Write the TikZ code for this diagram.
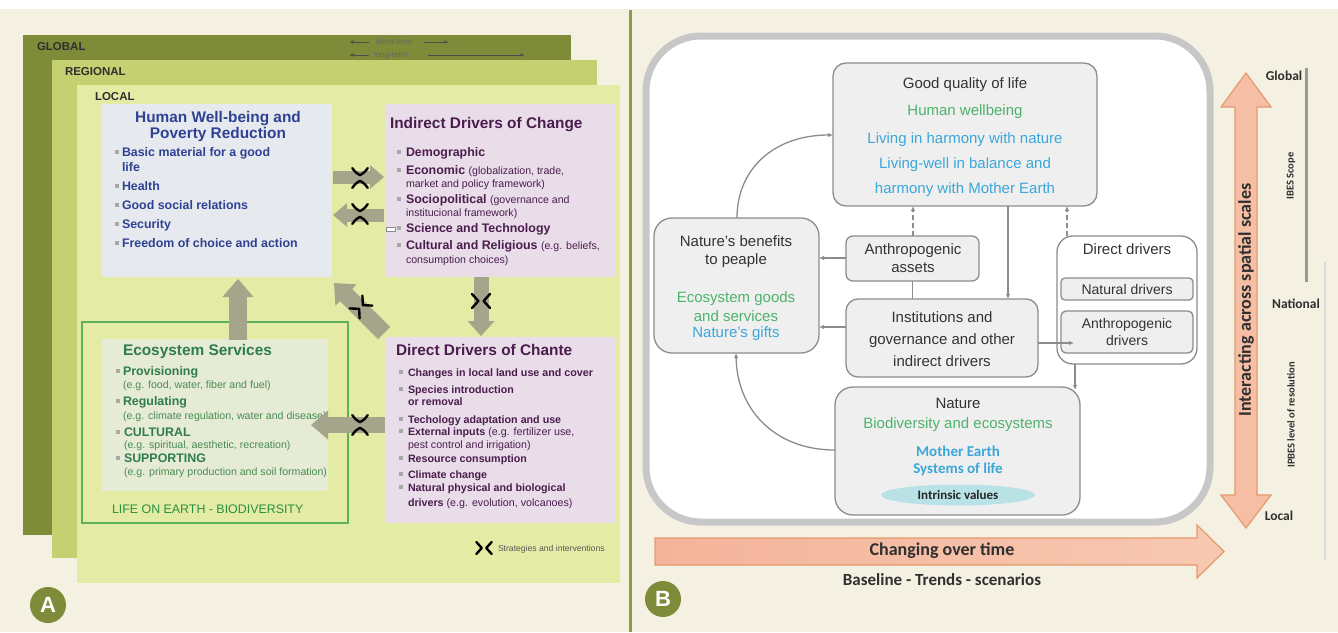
\documentclass[tikz,border=0pt]{standalone}
\usepackage{fontspec}
\setmainfont{Liberation Sans}
\newfontfamily\carl{Carlito}
\usetikzlibrary{arrows.meta,shapes.geometric}
\definecolor{cream}{HTML}{F4F1E2}
\definecolor{globalc}{HTML}{7E8B38}
\definecolor{regionc}{HTML}{C5D171}
\definecolor{localc}{HTML}{E4EBA5}
\definecolor{hwbfill}{HTML}{E6EAEF}
\definecolor{hwbblue}{HTML}{2F4192}
\definecolor{purfill}{HTML}{EADDEA}
\definecolor{purtext}{HTML}{4A1D4D}
\definecolor{ecofill}{HTML}{E5EBD4}
\definecolor{ecogreen}{HTML}{2F7D4B}
\definecolor{ecotext}{HTML}{4A8C55}
\definecolor{greenline}{HTML}{5DB15D}
\definecolor{arrowc}{HTML}{A5A58B}
\definecolor{sepc}{HTML}{8E9D45}
\definecolor{bline}{HTML}{8C8C8C}
\definecolor{bfill}{HTML}{EFEFEF}
\definecolor{bgreen}{HTML}{4DB36B}
\definecolor{bblue}{HTML}{3AA7DA}
\definecolor{outerc}{HTML}{C7C7C7}
\definecolor{orb}{HTML}{E39A6F}
\definecolor{salL}{HTML}{F4B49B}
\definecolor{salM}{HTML}{FCF0E9}
\definecolor{salR}{HTML}{F7C8B1}
\definecolor{salV}{HTML}{F6BEA4}
\definecolor{salVm}{HTML}{F9D0BD}
\definecolor{tealc}{HTML}{B8E2E5}
\definecolor{bulg}{HTML}{A8A8A8}
\definecolor{labc}{HTML}{2F2F2F}
\newcommand\fsz[2]{\fontsize{#1}{#2}\selectfont}
\newcommand\bul[1][3pt]{\textcolor{bulg}{\rule[2.5pt]{4pt}{4pt}}\hspace{#1}}
\tikzset{
  every node/.style={inner sep=0pt, outer sep=0pt},
  layer/.style={anchor=north west},
  lvl/.style={font=\fsz{11.5}{13}\bfseries, text=labc, anchor=base west},
  hwbt/.style={font=\fsz{15.4}{17}\bfseries, text=hwbblue, anchor=base},
  hwbi/.style={font=\fsz{12.4}{14}\bfseries, text=hwbblue, anchor=base west},
  purt/.style={font=\fsz{15.4}{17}\bfseries, text=purtext, anchor=base west},
  puri/.style={font=\fsz{12.4}{14}\bfseries, text=purtext, anchor=base west},
  purd/.style={font=\fsz{10.7}{12}\bfseries, text=purtext, anchor=base west},
  ecot/.style={font=\fsz{15.4}{17}\bfseries, text=ecogreen, anchor=base west},
  ecoi/.style={font=\fsz{12.4}{14}\bfseries, text=ecogreen, anchor=base west},
  ecop/.style={font=\fsz{10.6}{12}, text=ecotext, anchor=base west},
  blk/.style={draw=arrowc},
  termt/.style={font=\fsz{8}{9}, text=black!60},
  termarr/.style={black!70, line width=0.8pt, -{Latex[length=4.5pt,width=3.5pt]}},
  chev/.style={line width=2.4pt, line cap=round, line join=round, black},
  strat/.pic={
    \draw[chev] (-9,-7) .. controls (-5,-4) .. (-2.6,0) .. controls (-5,4) .. (-9,7);
    \draw[chev] (9,-7) .. controls (5,-4) .. (2.6,0) .. controls (5,4) .. (9,7);
  },
  bnode/.style={draw=bline, fill=bfill, line width=1.3pt, rounded corners=13pt, anchor=north west},
  btx/.style={font=\fsz{15}{17}, text=black!80, anchor=base},
  bcon/.style={draw=bline, line width=1.3pt, -{Latex[length=5pt,width=4.5pt]}},
  bdash/.style={bcon, dashed, dash pattern=on 5pt off 3pt},
  scl/.style={font=\carl\fsz{13.5}{15}\bfseries, text=labc, anchor=base},
  circ/.style={circle, fill=globalc, minimum size=36pt, text=white, font=\fsz{22}{24}\bfseries},
}
\begin{document}
\begin{tikzpicture}[x=1pt,y=-1pt]
\useasboundingbox (0,0) rectangle (1338,632);
\fill[white] (0,0) rectangle (1338,632);
\fill[cream] (0,9) rectangle (1338,632);
\draw[sepc, line width=3pt] (630,10) -- (630,632);

% ---------------- Panel A ----------------
\node[layer, fill=globalc, minimum width=548pt, minimum height=500pt] (glob) at (23,35) {};
\node[layer, fill=regionc, minimum width=545pt, minimum height=498pt] (reg) at (52,60) {};
\node[layer, fill=localc, minimum width=543pt, minimum height=498pt] (loc) at (77,85) {};
\node[lvl] (lglob) at (37,50) {GLOBAL};
\node[lvl] (lreg) at (65,75) {REGIONAL};
\node[lvl] (lloc) at (95,100) {LOCAL};

\node[termt] (stt) at (394,42) {short-term};
\node[termt] (ltt) at (391,55) {long-term};
\coordinate (st1) at (369,42); \coordinate (st0) at (349,42);
\coordinate (st2) at (424,42); \coordinate (st3) at (449,42);
\coordinate (lt1) at (369,55); \coordinate (lt0) at (349,55);
\coordinate (lt2) at (428,55); \coordinate (lt3) at (525,55);
\draw[termarr] (st1) -- (st0);
\draw[termarr] (st2) -- (st3);
\draw[termarr] (lt1) -- (lt0);
\draw[termarr] (lt2) -- (lt3);

% Human well-being
\node[layer, fill=hwbfill, minimum width=230pt, minimum height=173pt] (hwb) at (102,104) {};
\node[hwbt] (hwbt1) at (218,122) {Human Well-being and};
\node[hwbt] (hwbt2) at (218,138) {Poverty Reduction};
\node[hwbi] (h1) at (115,156) {\bul Basic material for a good};
\node[hwbi] (h1b) at (122,171) {life};
\node[hwbi] (h2) at (115,190) {\bul Health};
\node[hwbi] (h3) at (115,209) {\bul Good social relations};
\node[hwbi] (h4) at (115,228) {\bul Security};
\node[hwbi] (h5) at (115,247) {\bul Freedom of choice and action};

% Indirect drivers
\node[layer, fill=purfill, minimum width=230pt, minimum height=173pt] (ind) at (385,104) {};
\node[purt] (indt) at (390,128) {Indirect Drivers of Change};
\node[puri] (i1) at (397,156) {\bul[5pt]Demographic};
\node[puri] (i2) at (397,174) {\bul[5pt]Economic {\mdseries\fsz{10.6}{12}(globalization, trade,}};
\node[font=\fsz{10.6}{12}, text=purtext, anchor=base west] (i2b) at (406,187) {market and policy framework)};
\node[puri] (i3) at (397,203) {\bul[5pt]Sociopolitical {\mdseries\fsz{10.6}{12}(governance and}};
\node[font=\fsz{10.6}{12}, text=purtext, anchor=base west] (i3b) at (406,216) {institucional framework)};
\node[puri] (i4) at (397,232) {\bul[5pt]Science and Technology};
\node[puri] (i5) at (397,249) {\bul[5pt]Cultural and Religious {\mdseries\fsz{10.6}{12}(e.g. beliefs,}};
\node[font=\fsz{10.6}{12}, text=purtext, anchor=base west] (i5b) at (406,263) {consumption choices)};
\node[draw=black!45, fill=white, line width=0.8pt, minimum width=9pt, minimum height=4pt, anchor=west] (smallr) at (386,229) {};

% Ecosystem services
\node[layer, draw=greenline, line width=1.8pt, minimum width=266pt, minimum height=201pt] (life) at (82,322) {};
\node[layer, fill=ecofill, minimum width=226pt, minimum height=152pt] (eco) at (102,339) {};
\node[ecot] (ecot1) at (123,355) {Ecosystem Services};
\node[ecoi] (e1) at (116,375) {\bul[3pt]Provisioning};
\node[ecop] (e1b) at (123,388) {(e.g. food, water, fiber and fuel)};
\node[ecoi] (e2) at (116,405) {\bul[3pt]Regulating};
\node[ecop] (e2b) at (123,419) {(e.g. climate regulation, water and disease)};
\node[ecoi] (e3) at (116,436) {\bul[4pt]CULTURAL};
\node[ecop] (e3b) at (124,448) {(e.g. spiritual, aesthetic, recreation)};
\node[ecoi] (e4) at (116,462) {\bul[4pt]SUPPORTING};
\node[ecop] (e4b) at (124,475) {(e.g. primary production and soil formation)};
\node[font=\fsz{12.4}{14}, text=ecogreen!85!green, anchor=base west] (lifet) at (112,513) {LIFE ON EARTH - BIODIVERSITY};

% Direct drivers
\node[layer, fill=purfill, minimum width=230pt, minimum height=186pt] (dir) at (385,337) {};
\node[purt] (dirt) at (396,355) {Direct Drivers of Chante};
\node[purd] (d1) at (399,376) {\bul[5pt]Changes in local land use and cover};
\node[purd] (d2) at (399,393) {\bul[5pt]Species introduction};
\node[purd] (d2b) at (408,405) {or removal};
\node[purd] (d3) at (399,423) {\bul[5pt]Techology adaptation and use};
\node[purd] (d4) at (399,435) {\bul[5pt]External inputs {\mdseries(e.g. fertilizer use,}};
\node[font=\fsz{10.6}{12}, text=purtext, anchor=base west] (d4b) at (408,448) {pest control and irrigation)};
\node[purd] (d5) at (399,462) {\bul[5pt]Resource consumption};
\node[purd] (d6) at (399,478) {\bul[5pt]Climate change};
\node[purd] (d7) at (399,491) {\bul[5pt]Natural physical and biological};
\node[purd] (d7b) at (408,506) {drivers {\mdseries(e.g. evolution, volcanoes)}};

% block arrows
\coordinate (a1s) at (333,177); \coordinate (a1e) at (384,177);
\coordinate (a2s) at (384,215); \coordinate (a2e) at (333,215);
\coordinate (a3s) at (481,277); \coordinate (a3e) at (481,336);
\coordinate (a4s) at (384,333); \coordinate (a4e) at (334,283);
\coordinate (a5s) at (238,340); \coordinate (a5e) at (238,279);
\coordinate (a6s) at (385,425); \coordinate (a6e) at (311,425);
\draw[blk, line width=13pt, -{Triangle[length=14pt,width=23pt]}] (a1s) -- (a1e);
\draw[blk, line width=13pt, -{Triangle[length=14pt,width=23pt]}] (a2s) -- (a2e);
\draw[blk, line width=15pt, -{Triangle[length=15pt,width=26pt]}] (a3s) -- (a3e);
\draw[blk, line width=17pt, -{Triangle[length=17pt,width=29pt]}] (a4s) -- (a4e);
\draw[blk, line width=18pt, -{Triangle[length=18pt,width=30pt]}] (a5s) -- (a5e);
\draw[blk, line width=16pt, -{Triangle[length=17pt,width=28pt]}] (a6s) -- (a6e);
\pic[rotate=90, scale=1.1] at (360,178) {strat};
\pic[rotate=90, scale=1.1] at (360,214) {strat};
\pic at (481,301) {strat};
\pic[rotate=45] at (361,307) {strat};
\pic[rotate=90, scale=1.1] at (360,425) {strat};
\pic[scale=0.85] at (484,548) {strat};
\node[font=\fsz{8.6}{10}, text=black!65, anchor=west] (legt) at (498,549) {Strategies and interventions};

\node[circ] (ca) at (48,605) {A};

% ---------------- Panel B ----------------
\draw[outerc, line width=7pt, fill=white, rounded corners=55pt] (646,36) rectangle (1210,522);

\node[bnode, minimum width=264pt, minimum height=143pt] (gq) at (833,63) {};
\node[btx] (gq1) at (965,88) {Good quality of life};
\node[btx, text=bgreen] (gq2) at (965,115) {Human wellbeing};
\node[btx, text=bblue] (gq3) at (965,143) {Living in harmony with nature};
\node[btx, text=bblue] (gq4) at (965,168) {Living-well in balance and};
\node[btx, text=bblue] (gq5) at (965,193) {harmony with Mother Earth};

\node[bnode, rounded corners=18pt, minimum width=165pt, minimum height=135pt] (nb) at (654,218) {};
\node[btx] (nb1) at (736,246) {Nature's benefits};
\node[btx] (nb2) at (736,264) {to peaple};
\node[btx, text=bgreen] (nb3) at (736,302) {Ecosystem goods};
\node[btx, text=bgreen] (nb4) at (736,321) {and services};
\node[btx, text=bblue] (nb5) at (736,337) {Nature's gifts};

\node[bnode, rounded corners=7pt, minimum width=133pt, minimum height=45pt] (aa) at (846,236) {};
\node[btx] (aa1) at (913,254) {Anthropogenic};
\node[btx] (aa2) at (913,272) {assets};

\node[bnode, rounded corners=12pt, minimum width=192pt, minimum height=78pt] (inst) at (846,299) {};
\node[btx] (in1) at (942,322) {Institutions and};
\node[btx] (in2) at (942,344) {governance and other};
\node[btx] (in3) at (942,366) {indirect drivers};

\node[bnode, fill=white, rounded corners=16pt, minimum width=140pt, minimum height=128pt] (dd) at (1057,236) {};
\node[btx] (dd1) at (1127,254) {Direct drivers};
\node[bnode, rounded corners=4pt, minimum width=132pt, minimum height=22pt] (ndr) at (1061,278) {};
\node[btx, font=\fsz{14}{16}] (ndr1) at (1127,294) {Natural drivers};
\node[bnode, rounded corners=5pt, minimum width=132pt, minimum height=42pt] (adr) at (1061,311) {};
\node[btx, font=\fsz{14}{16}] (adr1) at (1127,328) {Anthropogenic};
\node[btx, font=\fsz{14}{16}] (adr2) at (1127,345) {drivers};

\node[bnode, rounded corners=18pt, minimum width=245pt, minimum height=128pt] (nat) at (835,387) {};
\node[btx] (na1) at (958,408) {Nature};
\node[btx, text=bgreen] (na2) at (958,428) {Biodiversity and ecosystems};
\node[btx, font=\carl\fsz{15}{17}\bfseries, text=bblue] (na3) at (958,456) {Mother Earth};
\node[btx, font=\carl\fsz{15}{17}\bfseries, text=bblue] (na4) at (958,473) {Systems of life};
\node[ellipse, fill=tealc, minimum width=154pt, minimum height=21pt] (iv) at (958,495) {};
\node[btx, font=\carl\fsz{13}{15}\bfseries, text=black!85] (iv1) at (958,499.5) {Intrinsic values};

% connectors B
\draw[bcon] (nb.north -| 737,0) .. controls (737,168) and (775,135) .. (gq.west |- 0,135);
\draw[bcon] (nat.west |- 0,450) .. controls (775,450) and (737,410) .. (nb.south -| 736,0);
\draw[bdash] (aa.north -| 913,0) -- (gq.south -| 913,0);
\draw[bdash] (dd.north -| 1067,0) -- (gq.south -| 1067,0);
\draw[bcon] (gq.south -| 1008,0) -- (inst.north -| 1008,0);
\draw[draw=bline, line width=1.3pt] (aa.south) -- (inst.north -| aa.south);
\draw[bcon] (aa.west |- 0,258) -- (nb.east |- 0,258);
\draw[bcon] (inst.west |- 0,327) -- (nb.east |- 0,327);
\coordinate (adrin) at (1074,343);
\draw[bcon] (inst.east |- 0,343) -- (adrin);
\coordinate (natc) at (1075,390);
\draw[bcon] (dd.south -| 1075,0) -- (natc);

% time arrow
\path[draw=orb, line width=1.2pt, left color=salL, middle color=salM, right color=salR]
  (655,538) -- (1197,538) -- (1197,525) -- (1224,551.5) -- (1197,578) -- (1197,565) -- (655,565) -- cycle;
\node[font=\carl\fsz{18}{20}\bfseries, text=labc] (cot) at (942,551) {Changing over time};
\node[font=\carl\fsz{17}{19}\bfseries, text=labc] (btr) at (942,580) {Baseline - Trends - scenarios};

% spatial arrow
\path[draw=orb, line width=1.2pt, top color=salV, middle color=salVm, bottom color=salV]
  (1246,73) -- (1271,107) -- (1257,107) -- (1257,495) -- (1271,495) -- (1246,528) -- (1221,495) -- (1235,495) -- (1235,107) -- (1221,107) -- cycle;
\node[rotate=90, font=\carl\fsz{18}{20}\bfseries, text=labc] (ias) at (1246,300) {Interacting across spatial scales};
\node[scl] (sg) at (1284,80) {Global};
\node[scl] (sn) at (1296,308) {National};
\node[scl] (sl) at (1279,520) {Local};
\draw[black!40, line width=3pt] (1306,68) -- (1306,282);
\draw[black!15, line width=2pt] (1325,262) -- (1325,560);
\node[rotate=90, font=\carl\fsz{10.5}{12}\bfseries, text=labc] (ibs) at (1291,176) {IBES Scope};
\node[rotate=90, font=\carl\fsz{10.5}{12}\bfseries, text=labc] (ipl) at (1291,415) {IPBES level of resolution};

\node[circ] (cb) at (663,599) {B};
\end{tikzpicture}
\end{document}
